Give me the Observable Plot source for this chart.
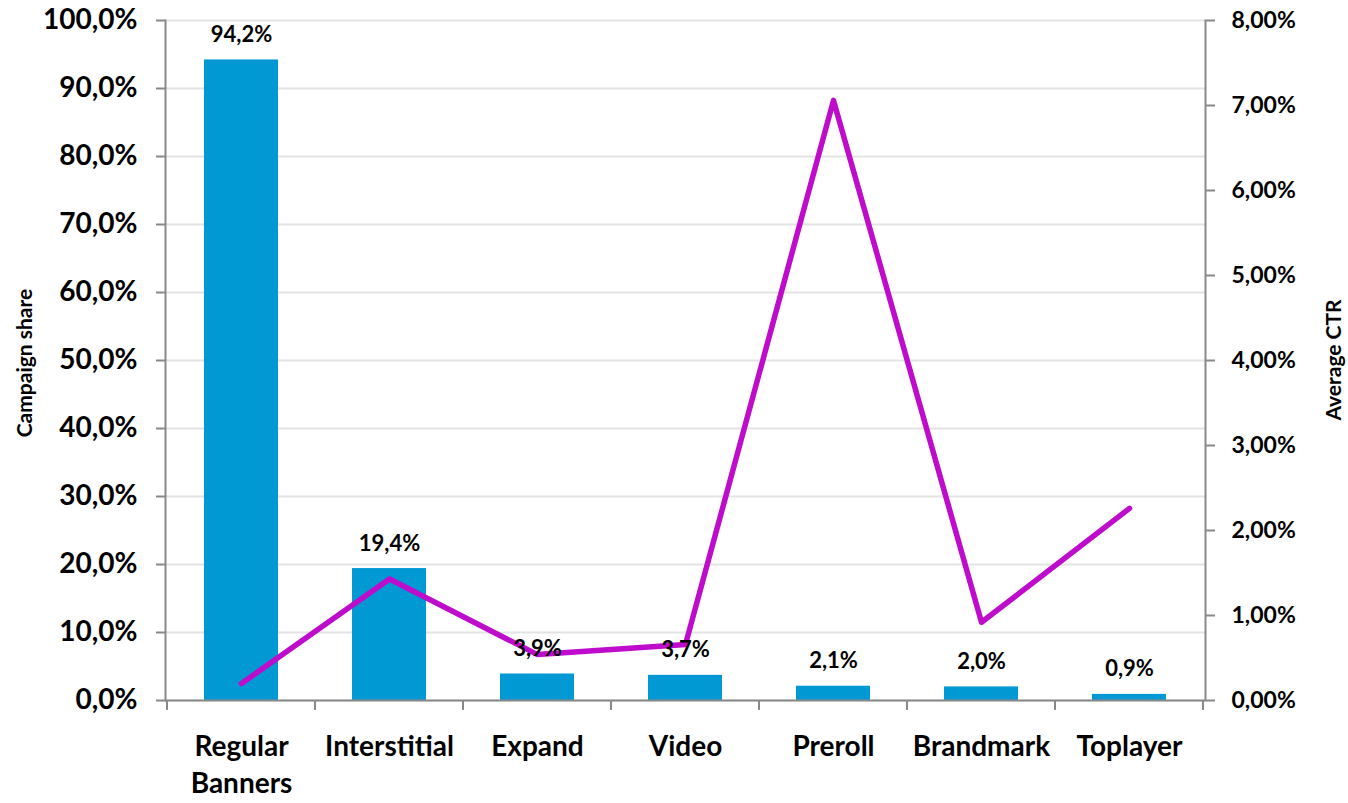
<!DOCTYPE html>
<html>
<head>
<meta charset="utf-8">
<script src="https://cdn.jsdelivr.net/npm/d3@7"></script>
<script src="https://cdn.jsdelivr.net/npm/@observablehq/plot@0.6"></script>
<style>
  html, body { margin: 0; padding: 0; background: #fff; }
  #chart { width: 1348px; height: 803px; }
</style>
</head>
<body>
<div id="chart"></div>
<script>
const categories = ["Regular Banners", "Interstitial", "Expand", "Video", "Preroll", "Brandmark", "Toplayer"];
const categoryLabels = ["Regular\nBanners", "Interstitial", "Expand", "Video", "Preroll", "Brandmark", "Toplayer"];
const campaignShare = [94.2, 19.4, 3.9, 3.7, 2.1, 2.0, 0.9];   // %
const averageCTR = [0.20, 1.43, 0.54, 0.66, 7.06, 0.92, 2.26];  // %
const leftTicks = [0, 10, 20, 30, 40, 50, 60, 70, 80, 90, 100];
const rightTicks = [0, 1, 2, 3, 4, 5, 6, 7, 8];

const leftMax = 100, rightMax = 8;
const ratio = leftMax / rightMax;

const data = categories.map((c, i) => ({cat: c, label: categoryLabels[i], share: campaignShare[i], ctr: averageCTR[i]}));
const comma = (v, d) => v.toFixed(d).replace(".", ",") + "%";

const FONT = "Lato, 'Open Sans', sans-serif";
const AXIS = "#898989";

// custom mark: category boundary ticks on the x axis
const boundaryTicks = (index, scales, values, dims) => {
  const x = scales.x, y = scales.y;
  const step = x.step ? x.step() : x.bandwidth() * 2;
  const y0 = y(0);
  const g = d3.create("svg:g");
  const xs = categories.map(c => x(c) + x.bandwidth() / 2 - step / 2);
  xs.push(x(categories[categories.length - 1]) + x.bandwidth() / 2 + step / 2);
  for (const xv of xs) {
    g.append("line").attr("x1", xv).attr("x2", xv).attr("y1", y0).attr("y2", y0 + 10)
      .attr("stroke", AXIS).attr("stroke-width", 2);
  }
  return g.node();
};

const chart = Plot.plot({
  width: 1348,
  height: 803,
  marginLeft: 165,
  marginRight: 143,
  marginTop: 20,
  marginBottom: 103,
  style: {fontFamily: FONT, fontWeight: "bold", background: "#fff", color: "#000"},
  x: {domain: categories, paddingInner: 0.5, paddingOuter: 0.25},
  y: {domain: [0, leftMax]},
  marks: [
    Plot.gridY(leftTicks, {stroke: "#e3e3e3", strokeOpacity: 1, strokeWidth: 2}),
    Plot.barY(data, {x: "cat", y: "share", fill: "#0099d4"}),
    Plot.line(data, {x: "cat", y: d => d.ctr * ratio, stroke: "#bf0bcb", strokeWidth: 5.5, strokeLinejoin: "round", strokeLinecap: "round"}),
    Plot.text(data, {x: "cat", y: "share", text: d => comma(d.share, 1), dy: -25, fontSize: 22, fontWeight: "bold", fill: "#000"}),
    Plot.axisY(leftTicks, {anchor: "left", tickFormat: d => comma(d, 1), tickSize: 9, tickPadding: 19, fontSize: 28, fontWeight: "bold", stroke: AXIS, strokeWidth: 2, label: null}),
    Plot.axisY(rightTicks.map(d => d * ratio), {anchor: "right", tickFormat: d => comma(d / ratio, 2), tickSize: 9, tickPadding: 17, fontSize: 23, fontWeight: "bold", stroke: AXIS, strokeWidth: 2, label: null}),
    Plot.axisX({tickSize: 0, tickPadding: 30, fontSize: 28, fontWeight: "bold", lineHeight: 1.3, tickFormat: (d) => categoryLabels[categories.indexOf(d)], label: null}),
    Plot.frame({anchor: "left", stroke: AXIS, strokeWidth: 2}),
    Plot.frame({anchor: "right", stroke: AXIS, strokeWidth: 2}),
    Plot.ruleY([0], {stroke: AXIS, strokeWidth: 2}),
    boundaryTicks
  ]
});

const wrap = d3.select("#chart").style("position", "relative");
wrap.node().appendChild(chart);
// axis titles
wrap.append("div").text("Campaign share")
  .style("position", "absolute").style("left", "23px").style("top", "363px")
  .style("transform", "translate(-50%,-50%) rotate(-90deg)")
  .style("font-family", FONT).style("font-weight", "bold").style("font-size", "21px").style("white-space", "nowrap");
wrap.append("div").text("Average CTR")
  .style("position", "absolute").style("left", "1332px").style("top", "360px")
  .style("transform", "translate(-50%,-50%) rotate(-90deg)")
  .style("font-family", FONT).style("font-weight", "bold").style("font-size", "21px").style("white-space", "nowrap");
</script>
</body>
</html>
